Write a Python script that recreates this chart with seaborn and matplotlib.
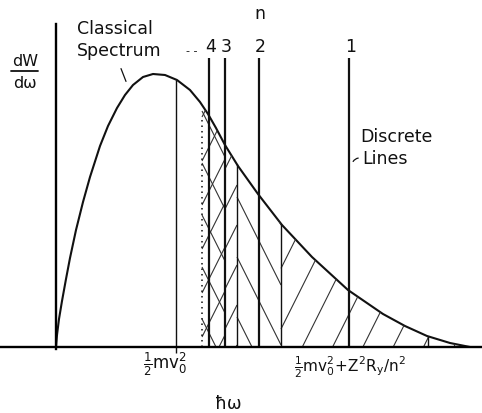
import numpy as np
import matplotlib
matplotlib.use("Agg")
import matplotlib.pyplot as plt
from matplotlib.collections import LineCollection
import seaborn as sns

# Classical (continuous) spectrum dW/dω against ħω, arbitrary units
hw = [0, 1, 3, 6, 10, 14, 20, 27, 34, 44, 52, 61, 69, 77, 87, 97, 109, 121,
      134, 144, 152, 160, 169, 182, 202, 226, 256, 292, 327, 349, 371, 394, 414]
dw = [0, 12, 28, 46, 68, 89, 117, 145, 170, 201, 221, 239, 252, 262, 270, 273,
      272, 267, 257, 245, 233, 219, 202, 181, 153, 122, 90, 57, 33, 21, 11, 4, 0]

# Discrete recombination lines, labelled by principal quantum number n
n_labels = ["1", "2", "3", "4"]
n_pos = [293, 203, 169, 153]
n_top = 289

series_limit = 146          # n -> infinity
kinetic = 120               # ½ m v0²
band_edges = [181, 225, 372]

# Hatched bands under the curve: (start, end, direction, spacing, phase)
bands = [
    (146, 169, +1, 22, 141),
    (146, 169, -1, 26, 160),
    (169, 181, +1, 20, 160),
    (181, 225, -1, 30, 196),
    (225, 414, +1, 30.3, 216),
]
hatch_slope = 2.0

sns.set_theme(style="white")
plt.rcParams["font.family"] = ["DejaVu Sans"]
plt.rcParams["mathtext.fontset"] = "dejavusans"

fig = plt.figure(figsize=(4.82, 4.14), dpi=100)
ax = fig.add_axes([0, 0, 1, 1])
ax.set_xlim(-56, 426)
ax.set_ylim(-66, 348)

# axes drawn as crossing spines
for side in ("top", "right"):
    ax.spines[side].set_visible(False)
ax.spines["left"].set_position(("data", 0))
ax.spines["bottom"].set_position(("data", 0))
ax.spines["left"].set_bounds(-2, 323)
ax.spines["bottom"].set_bounds(-56, 426)
for side in ("left", "bottom"):
    ax.spines[side].set_linewidth(1.7)
    ax.spines[side].set_color("black")
ax.set_xticks([])
ax.set_yticks([])

ink = "#111111"

# continuous spectrum
sns.lineplot(x=hw, y=dw, ax=ax, color=ink, lw=1.5, sort=False, estimator=None)

# region under the curve used to clip the hatching
under = ax.fill_between(hw, dw, 0, facecolor="none", edgecolor="none")
clip = under.get_paths()[0]

segs = []
for x0, x1, d, step, phase in bands:
    k0 = int(np.floor((x0 - phase) / step)) - 30
    for k in range(k0, k0 + 80):
        b = phase + k * step
        s = d * hatch_slope
        if d > 0:
            xa, xb = max(x0, b), x1
        else:
            xa, xb = x0, min(x1, b)
        if xb <= xa:
            continue
        segs.append([(xa, s * (xa - b)), (xb, s * (xb - b))])
hatch = LineCollection(segs, colors="#333333", linewidths=0.8)
ax.add_collection(hatch)
hatch.set_clip_path(clip, ax.transData)

# discrete lines
ax.vlines(n_pos, 0, n_top, color=ink, lw=1.6)
for lab, x in zip(n_labels, n_pos):
    ax.text(x + 1.5, n_top + 12, lab, ha="center", va="center", fontsize=12.5, color=ink)
ax.text(n_pos[2] - 33, n_top + 8, "- -", ha="center", va="center", fontsize=8, color=ink)
ax.text(n_pos[1] + 1, 334, "n", ha="center", va="center", fontsize=12.5, color=ink)

# series limit and band edges
ax.vlines(series_limit, 0, np.interp(series_limit, hw, dw) - 12, color=ink, lw=1.1,
          linestyles=(0, (1, 2.6)))
ax.vlines(band_edges, 0, np.interp(band_edges, hw, dw), color=ink, lw=1.0)
ax.vlines(kinetic, -6, np.interp(kinetic, hw, dw), color=ink, lw=1.0)

# labels
ax.text(21, 319, "Classical", ha="left", va="center", fontsize=12.5, color=ink)
ax.text(21, 297, "Spectrum", ha="left", va="center", fontsize=12.5, color=ink)
ax.annotate("", xy=(71, 263), xytext=(64, 281),
            arrowprops=dict(arrowstyle="-", lw=0.9, color=ink))

ax.text(304, 211, "Discrete", ha="left", va="center", fontsize=12.5, color=ink)
ax.text(306, 189, "Lines", ha="left", va="center", fontsize=12.5, color=ink)
ax.annotate("", xy=(296, 183), xytext=(305, 189),
            arrowprops=dict(arrowstyle="-", lw=0.9, color=ink,
                            connectionstyle="arc3,rad=0.4"))

ax.text(-31, 287, "dW", ha="center", va="center", fontsize=11.5, color=ink)
ax.plot([-45, -18], [276, 276], color=ink, lw=1.3)
ax.text(-31, 264, "dω", ha="center", va="center", fontsize=11.5, color=ink)

ax.text(kinetic - 11, -16, r"$\mathrm{\frac{1}{2}mv_0^2}$", ha="center", va="center",
        fontsize=12, color=ink)
ax.text(n_pos[0] + 1, -19, r"$\mathrm{\frac{1}{2}mv_0^2\!+\!Z^2R_y/n^2}$", ha="center",
        va="center", fontsize=11, color=ink)
ax.text(172, -56, "ħω", ha="center", va="center", fontsize=12.5, color=ink)

fig.savefig("out.png", dpi=100, facecolor="white")
